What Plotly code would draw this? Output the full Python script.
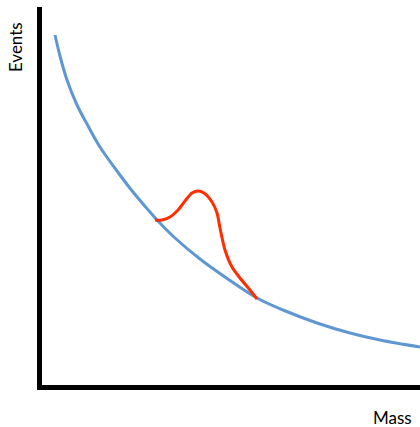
import plotly.graph_objects as go

# Background curve (arbitrary mass / event units)
bg_mass = [15, 20, 27, 37, 47, 60, 77, 93, 110, 118, 135, 160, 185, 217, 243, 277, 310, 340, 380]
bg_events = [350, 329, 305, 280, 261, 238, 214, 193, 173, 164, 147, 126, 108, 87, 75, 62, 52, 45, 38]

# Signal bump on top of background
sig_mass = [115, 122, 130, 138, 145, 152, 158, 164, 172, 177, 180, 185, 192, 200, 210, 217]
sig_events = [165, 165, 168, 175, 184, 192, 194, 192, 183, 172, 157, 135, 118, 107, 95, 86]

fig = go.Figure()
fig.add_trace(go.Scatter(x=bg_mass, y=bg_events, mode="lines",
                         line=dict(color="#5f97d2", width=3, shape="spline", smoothing=1.0),
                         hoverinfo="skip"))
fig.add_trace(go.Scatter(x=sig_mass, y=sig_events, mode="lines",
                         line=dict(color="#ff2d00", width=3, shape="spline", smoothing=0.8),
                         hoverinfo="skip"))

fig.update_layout(
    width=420, height=427,
    margin=dict(l=42, r=0, t=7, b=42),
    paper_bgcolor="white", plot_bgcolor="white",
    showlegend=False,
    xaxis=dict(range=[2, 380], showline=True, linewidth=5, linecolor="black",
               showgrid=False, zeroline=False, showticklabels=False, ticks=""),
    yaxis=dict(range=[0, 378], showline=True, linewidth=5, linecolor="black",
               showgrid=False, zeroline=False, showticklabels=False, ticks=""),
    annotations=[
        dict(text="Events", xref="paper", yref="paper", x=-0.0714, y=0.894,
             showarrow=False, textangle=-90, font=dict(family="Lato", size=17, color="black"),
             xanchor="center", yanchor="middle"),
        dict(text="Mass", xref="paper", yref="paper", x=0.926, y=-0.085,
             showarrow=False, font=dict(family="Lato", size=17, color="black"),
             xanchor="center", yanchor="middle"),
    ],
)

fig.write_html("out.html", config={"displayModeBar": False},
               post_script="document.body.style.margin='0';document.body.style.overflow='hidden';")
